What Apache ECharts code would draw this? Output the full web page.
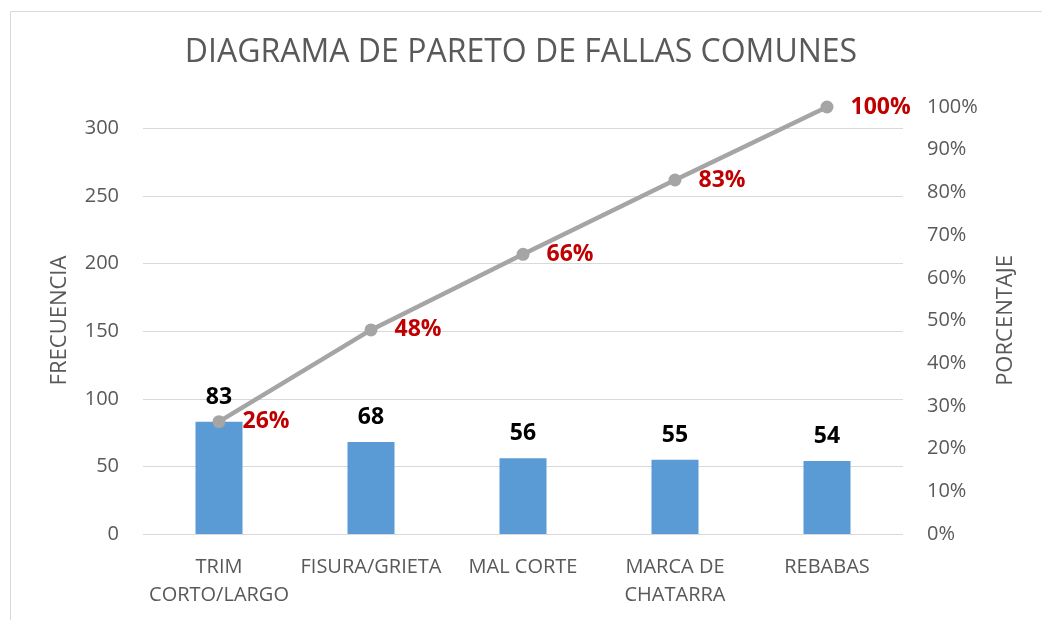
<!DOCTYPE html>
<html>
<head>
<meta charset="utf-8">
<style>
    html, body { margin: 0; padding: 0; background: #fff; }
    .chart { display: block; width: 1042px; height: 620px; }
</style>
<script src="https://cdn.jsdelivr.net/npm/echarts@6/dist/echarts.min.js"></script>
</head>
<body>
<section id="chart_pareto" class="chart"></section>
<script>
// 类别
const categories = ["TRIM\nCORTO/LARGO", "FISURA/GRIETA", "MAL CORTE", "MARCA DE\nCHATARRA", "REBABAS"];
// 频率
const frecuencia = [83, 68, 56, 55, 54];
// 累计百分比
const porcentaje = [0.263, 0.478, 0.655, 0.829, 1.0];
// 左轴最大值 (= 总数)
const leftMax = 316;
const leftTicks = [0, 50, 100, 150, 200, 250, 300];

const grey = "#595959";
const font = "'Open Sans', 'Noto Sans', sans-serif";

let chart_obj = echarts.init(document.getElementById("chart_pareto"));

let option = {
    animation: false,
    textStyle: { fontFamily: font },
    title: {
        text: "DIAGRAMA DE PARETO DE FALLAS COMUNES",
        left: "center",
        top: 34,
        padding: 0,
        textStyle: { color: grey, fontSize: 32, fontWeight: "normal", fontFamily: font, lineHeight: 38 }
    },
    // 外框
    graphic: [{
        type: "rect",
        shape: { x: 10.5, y: 11.5, width: 1100, height: 700 },
        style: { fill: "none", stroke: "#d9d9d9", lineWidth: 1 },
        silent: true
    }],
    grid: { left: 143, right: 139, top: 107, bottom: 86 },
    xAxis: [{
        type: "category",
        data: categories,
        axisLine: { show: false },
        axisTick: { show: false },
        axisLabel: { color: grey, fontSize: 20, lineHeight: 28, margin: 19, interval: 0 }
    }],
    yAxis: [{
        type: "value",
        name: "FRECUENCIA",
        nameLocation: "middle",
        nameGap: 72,
        nameTextStyle: { color: grey, fontSize: 22 },
        min: 0,
        max: leftMax,
        interval: 50,
        axisLine: { show: false },
        axisTick: { show: false },
        axisLabel: {
            color: grey, fontSize: 20, margin: 24, showMaxLabel: false,
            formatter: v => leftTicks.indexOf(v) >= 0 ? String(v) : ""
        },
        splitLine: { show: true, showMaxLine: false, lineStyle: { color: "#d9d9d9", width: 1 } }
    }, {
        type: "value",
        name: "PORCENTAJE",
        nameLocation: "middle",
        nameGap: 92,
        nameTextStyle: { color: grey, fontSize: 22 },
        min: 0,
        max: 1,
        interval: 0.1,
        axisLine: { show: false },
        axisTick: { show: false },
        axisLabel: { color: grey, fontSize: 20, margin: 24, formatter: v => Math.round(v * 100) + "%" },
        splitLine: { show: false }
    }],
    series: [{
        name: "FRECUENCIA",
        type: "bar",
        data: frecuencia,
        barWidth: 47,
        itemStyle: { color: "#5b9bd5" },
        label: {
            show: true, position: "top", distance: 13,
            color: "#000", fontSize: 23, fontWeight: "bold"
        }
    }, {
        name: "PORCENTAJE",
        type: "line",
        yAxisIndex: 1,
        data: porcentaje,
        symbol: "circle",
        symbolSize: 13,
        lineStyle: { color: "#a5a5a5", width: 4.5 },
        itemStyle: { color: "#a5a5a5" },
        label: {
            show: true, position: "right", distance: 17,
            color: "#c00000", fontSize: 23, fontWeight: "bold",
            formatter: p => Math.round(p.value * 100) + "%"
        }
    }]
};

chart_obj.setOption(option);
</script>
</body>
</html>
